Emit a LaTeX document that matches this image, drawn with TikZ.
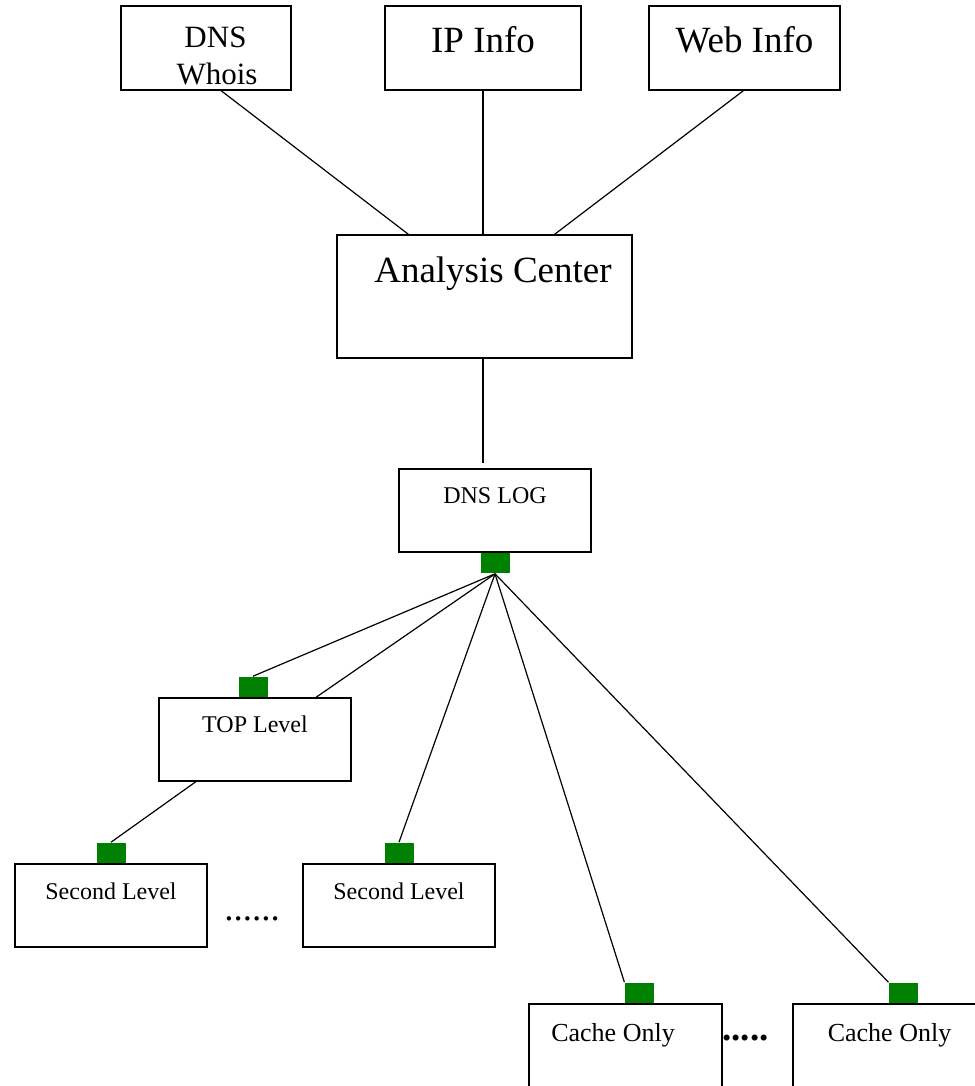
\documentclass[tikz,border=0pt]{standalone}
\usepackage{fontspec}
\setmainfont{Liberation Serif}
\definecolor{portgreen}{RGB}{0,128,0}
\tikzset{
  box/.style = {draw, rectangle, inner ysep=0pt, line width=1.2pt},
  bigtext/.style = {font=\fontsize{37}{44}\selectfont},
  smalltext/.style = {font=\fontsize{24}{29}\selectfont},
  port/.style = {fill=portgreen, rectangle, inner sep=0pt, minimum width=29, minimum height=20},
}

\begin{document}
\begin{tikzpicture}[x=1pt, y=-1pt, line width=1.2pt]
\useasboundingbox (0,0) rectangle (974,1086);
% sources
\node[box, font=\fontsize{31}{37}\selectfont, align=center, minimum width=170, text height=79, text depth=5] (whois) at (206,48) {\hspace*{19pt}DNS\\\hspace*{22pt}Whois};
\node[box, bigtext, minimum width=196, text height=47, text depth=37] (ipinfo) at (483,48) {IP Info};
\node[box, bigtext, minimum width=191, text height=47, text depth=37] (webinfo) at (744.5,48) {Web Info};
\node[box, bigtext, minimum width=295, text height=47, text depth=76] (analysis) at (484.5,296.5) {\hspace*{17pt}Analysis Center};
% log tree
\node[box, smalltext, minimum width=192, text height=34, text depth=49] (dnslog) at (495,510.5) {DNS LOG};
\node[box, smalltext, minimum width=192, text height=34, text depth=49] (toplevel) at (255,739.5) {TOP Level};
\node[box, smalltext, minimum width=192, text height=35, text depth=48] (secondA) at (111,905.5) {Second Level};
\node[box, smalltext, minimum width=192, text height=35, text depth=48] (secondB) at (399,905.5) {Second Level};
\node[box, font=\fontsize{26}{31}\selectfont, minimum width=193, text height=37, text depth=56] (cacheA) at (625.5,1050.5) {Cache Only\hspace*{25pt}};
\node[box, font=\fontsize{26}{31}\selectfont, minimum width=233, text height=37, text depth=56] (cacheB) at (909.5,1050.5) {Cache Only\hspace*{40pt}};
\node[bigtext, anchor=base] (dotsA) at (252,920) {......};
\node[bigtext, anchor=base] (dotsB) at (745.5,1040) {\bfseries .....};
% green ports
\node[port, anchor=north] (logport) at (dnslog.south) {};
\node[port, anchor=south] (topport) at ([xshift=-2]toplevel.north) {};
\node[port, anchor=south] (secportA) at (secondA.north) {};
\node[port, anchor=south] (secportB) at (secondB.north) {};
\node[port, anchor=south, xshift=14] (cacheportA) at (cacheA.north) {};
\node[port, anchor=south, xshift=-6] (cacheportB) at (cacheB.north) {};
% links
\draw ([xshift=15]whois.south) -- ([xshift=-76]analysis.north);
\draw (ipinfo.south) -- (ipinfo.south |- analysis.north);
\draw ([xshift=-1]webinfo.south) -- ([xshift=70]analysis.north);
\draw[shorten >=5pt] (ipinfo.south |- analysis.south) -- (ipinfo.south |- dnslog.north);
\foreach \dst in {topport.north, toplevel, secportB.north, cacheportA.north west, cacheportB.north west}
  \draw (logport.south) -- (\dst);
\draw (toplevel) -- (secportA.north);
\end{tikzpicture}
\end{document}
